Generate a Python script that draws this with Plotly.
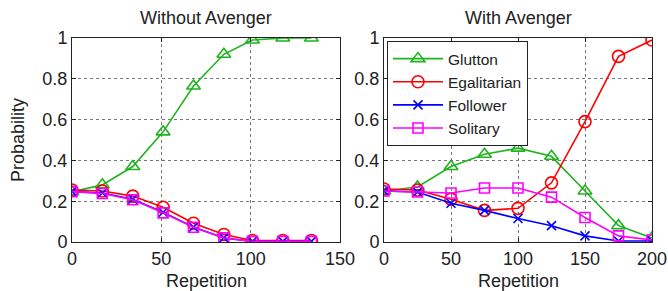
import plotly.graph_objects as go

# ---- data ----
rep_without = [0, 17, 34, 51, 68, 85, 101, 118, 134]
glutton_without = [0.246, 0.28, 0.37, 0.54, 0.765, 0.92, 0.99, 1.0, 1.0]
egal_without = [0.255, 0.25, 0.225, 0.17, 0.092, 0.037, 0.007, 0.007, 0.007]
follower_without = [0.247, 0.24, 0.21, 0.146, 0.073, 0.02, 0.003, 0.003, 0.003]
solitary_without = [0.247, 0.238, 0.207, 0.143, 0.072, 0.02, 0.003, 0.003, 0.003]

rep_with = [0, 25, 50, 75, 100, 125, 150, 175, 200]
glutton_with = [0.25, 0.27, 0.37, 0.43, 0.46, 0.42, 0.25, 0.08, 0.02]
egal_with = [0.26, 0.255, 0.21, 0.155, 0.165, 0.29, 0.59, 0.91, 0.99]
follower_with = [0.25, 0.245, 0.19, 0.155, 0.115, 0.08, 0.03, 0.005, 0.005]
solitary_with = [0.25, 0.245, 0.24, 0.265, 0.265, 0.22, 0.12, 0.03, 0.01]

series_names = ["Glutton", "Egalitarian", "Follower", "Solitary"]
colors = ["#1fb31f", "#ff0000", "#0000ff", "#ff00ff"]
symbols = ["triangle-up-open", "circle-open", "x-thin-open", "square-open"]
sizes = [12, 12, 9, 10]

y_ticks = [0, 0.2, 0.4, 0.6, 0.8, 1]
y_ticktext = ["0", "0.2", "0.4", "0.6", "0.8", "1"]

fig = go.Figure()

without = [glutton_without, egal_without, follower_without, solitary_without]
withav = [glutton_with, egal_with, follower_with, solitary_with]

for i, name in enumerate(series_names):
    fig.add_trace(go.Scatter(
        x=rep_without, y=without[i], mode="lines+markers", name=name,
        xaxis="x", yaxis="y", showlegend=False,
        line=dict(color=colors[i], width=1.6),
        marker=dict(symbol=symbols[i], size=sizes[i], color=colors[i],
                    line=dict(color=colors[i], width=1.6)),
    ))
for i, name in enumerate(series_names):
    fig.add_trace(go.Scatter(
        x=rep_with, y=withav[i], mode="lines+markers", name=name,
        xaxis="x2", yaxis="y2", showlegend=True,
        line=dict(color=colors[i], width=1.6),
        marker=dict(symbol=symbols[i], size=sizes[i], color=colors[i],
                    line=dict(color=colors[i], width=1.6)),
    ))

W, H = 668, 291
yd = [1 - 242 / H, 1 - 38 / H]
font = "Liberation Sans, Arial, Helvetica, sans-serif"

axis_common = dict(
    showline=True, linecolor="#222", linewidth=1, mirror="allticks",
    ticks="inside", ticklen=4, tickcolor="#222",
    showgrid=True, gridcolor="#777", griddash="dot", gridwidth=1,
    zeroline=False, tickfont=dict(size=18, color="#222", family=font),
)

def ann(text, x, y, size, angle=0):
    return dict(text=text, x=x / W, y=1 - y / H, xref="paper", yref="paper",
                xanchor="center", yanchor="middle", showarrow=False, textangle=angle,
                font=dict(size=size, family=font, color="#222"))

fig.update_layout(
    width=W, height=H, autosize=False,
    margin=dict(l=0, r=0, t=0, b=0, autoexpand=False),
    paper_bgcolor="white", plot_bgcolor="white",
    font=dict(family=font, color="#222"),
    xaxis=dict(domain=[72 / W, 340 / W], range=[0, 150], tickvals=[0, 50, 100, 150],
               anchor="y", **axis_common),
    yaxis=dict(domain=yd, range=[0, 1], tickvals=y_ticks, ticktext=y_ticktext,
               anchor="x", **axis_common),
    xaxis2=dict(domain=[384 / W, 652 / W], range=[0, 200], tickvals=[0, 50, 100, 150, 200],
                anchor="y2", **axis_common),
    yaxis2=dict(domain=yd, range=[0, 1], tickvals=y_ticks, ticktext=y_ticktext,
                anchor="x2", **axis_common),
    legend=dict(x=387 / W, y=1 - 41 / H, xanchor="left", yanchor="top",
                bgcolor="white", bordercolor="#222", borderwidth=1,
                font=dict(size=15.5, color="#222", family=font),
                itemwidth=50, tracegroupgap=0),
    annotations=[
        ann("Without Avenger", 206, 18, 18),
        ann("With Avenger", 518, 18, 18),
        ann("Repetition", 206, 281, 18),
        ann("Repetition", 518, 281, 18),
        ann("Probability", 18, 140, 18, -90),
    ],
)

post = ("document.documentElement.style.margin='0';document.body.style.margin='0';"
        "document.documentElement.style.overflow='hidden';document.body.style.overflow='hidden';"
        "var d=document.getElementById('{plot_id}');d.style.position='fixed';"
        "d.style.top='0px';d.style.left='0px';")

fig.write_html("out.html", config={"responsive": False, "displayModeBar": False},
               post_script=post)
